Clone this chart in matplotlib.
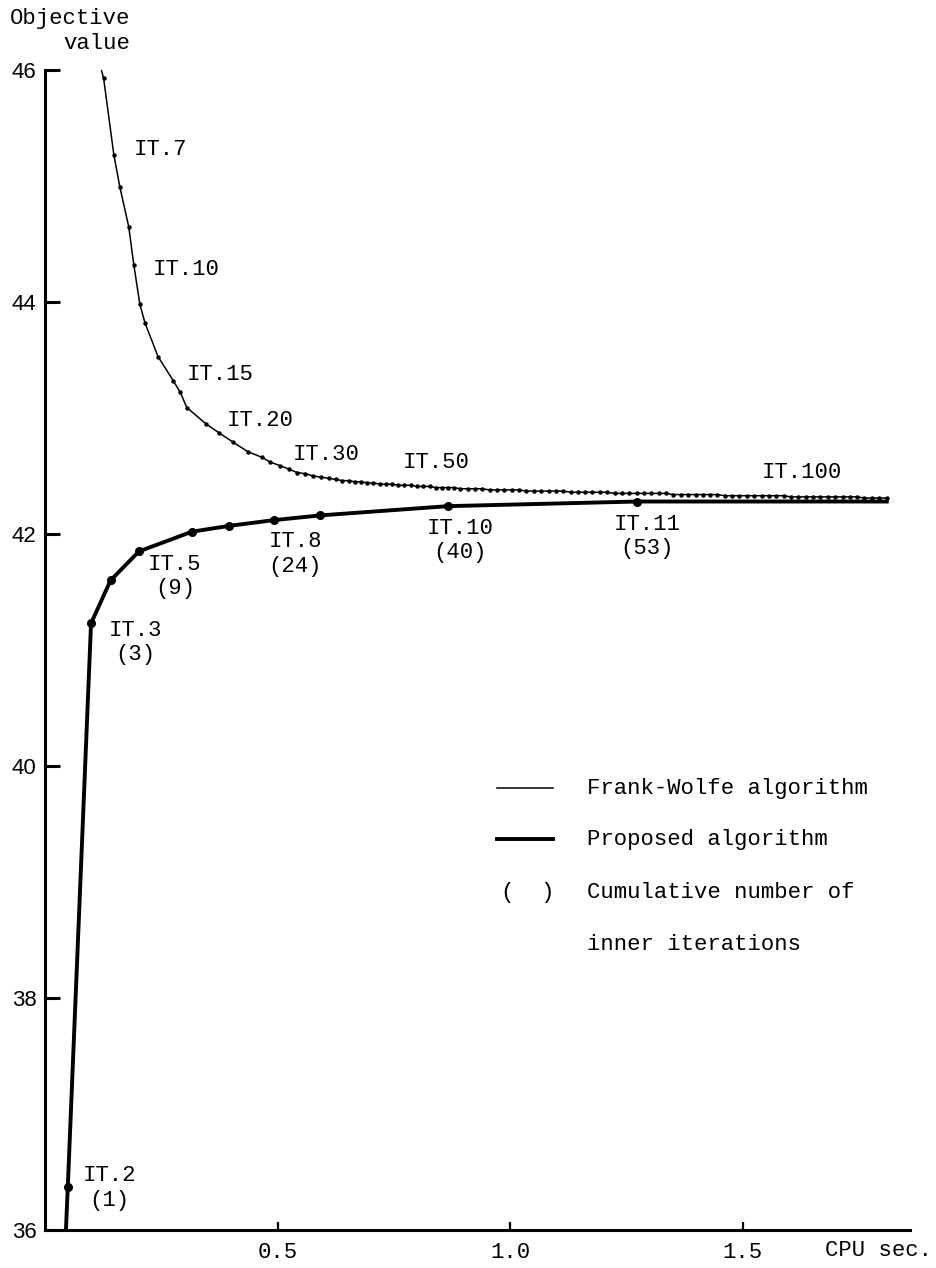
import matplotlib.pyplot as plt

# ---- data ----
# Frank-Wolfe iterates, IT.5 .. IT.108 (CPU sec, objective value)
fw_start_it = 5
fw_cpu = [0.080, 0.126, 0.148, 0.161, 0.180, 0.191, 0.204, 0.215, 0.243, 0.276,
          0.291, 0.305, 0.346, 0.375, 0.405, 0.436, 0.467, 0.484, 0.505, 0.524,
          0.542, 0.560, 0.577, 0.593, 0.610, 0.626,
          0.639, 0.653, 0.666, 0.680, 0.693, 0.706, 0.720, 0.733, 0.746, 0.760,
          0.773, 0.786, 0.800, 0.813, 0.827, 0.840, 0.853, 0.867, 0.880, 0.893,
          0.909, 0.925, 0.940, 0.956, 0.972, 0.988, 1.004, 1.019, 1.035, 1.051,
          1.067, 1.083, 1.098, 1.114, 1.130, 1.146, 1.162, 1.177, 1.193, 1.209,
          1.225, 1.241, 1.256, 1.272, 1.288, 1.304, 1.320, 1.335, 1.351, 1.367,
          1.383, 1.399, 1.414, 1.430, 1.446, 1.462, 1.478, 1.493, 1.509, 1.525,
          1.541, 1.557, 1.572, 1.588, 1.604, 1.620, 1.636, 1.651, 1.667, 1.683,
          1.699, 1.715, 1.730, 1.746, 1.762, 1.778, 1.794, 1.810]
fw_obj = [46.60, 45.93, 45.27, 44.99, 44.65, 44.32, 43.98, 43.82, 43.53, 43.32,
          43.22, 43.09, 42.95, 42.87, 42.79, 42.71, 42.66, 42.62, 42.59, 42.56,
          42.53, 42.52, 42.50, 42.49, 42.48, 42.47,
          42.46, 42.46, 42.45, 42.45, 42.44, 42.44, 42.43, 42.43, 42.43, 42.42,
          42.42, 42.42, 42.41, 42.41, 42.41, 42.40, 42.40, 42.40, 42.40, 42.39,
          42.39, 42.39, 42.39, 42.38, 42.38, 42.38, 42.38, 42.38, 42.37, 42.37,
          42.37, 42.37, 42.37, 42.37, 42.36, 42.36, 42.36, 42.36, 42.36, 42.36,
          42.35, 42.35, 42.35, 42.35, 42.35, 42.35, 42.35, 42.35, 42.34, 42.34,
          42.34, 42.34, 42.34, 42.34, 42.34, 42.33, 42.33, 42.33, 42.33, 42.33,
          42.33, 42.33, 42.33, 42.33, 42.32, 42.32, 42.32, 42.32, 42.32, 42.32,
          42.32, 42.32, 42.32, 42.32, 42.31, 42.31, 42.31, 42.31]
fw_labelled = [7, 10, 15, 20, 30, 50, 100]

# Proposed algorithm: line runs up from the axis, iterates IT.2 .. IT.11, then flat
pr_cpu = [0.045, 0.049, 0.099, 0.141, 0.202, 0.316, 0.396, 0.493, 0.591, 0.866, 1.273, 1.810]
pr_obj = [36.00, 36.37, 41.23, 41.60, 41.85, 42.02, 42.07, 42.12, 42.16, 42.24, 42.28, 42.28]
pr_iter = [None, 2, 3, 4, 5, 6, 7, 8, 9, 10, 11, None]
pr_inner = {2: 1, 3: 3, 5: 9, 8: 24, 10: 40, 11: 53}

xticks = [0.5, 1.0, 1.5]
xtick_labels = ['0.5', '1.0', '1.5']
yticks = [36, 38, 40, 42, 44, 46]

mono = 'Liberation Mono'
fs = 16

fig = plt.figure(figsize=(9.37, 12.68), dpi=100)
ax = fig.add_axes([45/937, 1 - 1230/1268, 865/937, 1160/1268])

# Frank-Wolfe: thin line with tiny dots at every iteration
ax.plot(fw_cpu, fw_obj, color='black', lw=1.1, marker='o', ms=2.2)
# proposed: thick line, dots only on the iterates
pr_marks = [i for i, it in enumerate(pr_iter) if it is not None]
ax.plot(pr_cpu, pr_obj, color='black', lw=2.8, marker='o', ms=5.5,
        markevery=pr_marks, solid_joinstyle='round')

# labels on Frank-Wolfe curve (offsets in pixels from the iterate)
fw_offsets = {7: (20, 5), 10: (19, -5), 15: (6, 18), 20: (-21, 31),
              30: (-43, 25), 50: (-58, 26), 100: (-66, 24)}
for it in fw_labelled:
    i = it - fw_start_it
    ax.annotate('IT.%d' % it, (fw_cpu[i], fw_obj[i]), xytext=fw_offsets[it],
                textcoords='offset pixels', ha='left', va='center',
                family=mono, fontsize=fs)

# labels on proposed curve: iteration and cumulative inner iterations
pr_offsets = {2: (42, -1), 3: (44, -19), 5: (36, -25), 8: (21, -34),
              10: (12, -34), 11: (10, -35)}
for it, inner in pr_inner.items():
    i = pr_iter.index(it)
    ax.annotate('IT.%d\n(%d)' % (it, inner), (pr_cpu[i], pr_obj[i]),
                xytext=pr_offsets[it], textcoords='offset pixels',
                ha='center', va='center', multialignment='center',
                family=mono, fontsize=fs, linespacing=1.2)

ax.set_xlim(0, 1.86)
ax.set_ylim(36, 46)
ax.set_xticks(xticks)
ax.set_xticklabels(xtick_labels, family=mono, fontsize=fs)
ax.set_yticks(yticks)
ax.set_yticklabels([str(v) for v in yticks], family='Liberation Sans', fontsize=16)
ax.tick_params(axis='y', direction='in', length=11, width=2.2, pad=6)
ax.tick_params(axis='x', direction='in', length=6, width=1.6, pad=9)

for s in ['top', 'right']:
    ax.spines[s].set_visible(False)
for s in ['left', 'bottom']:
    ax.spines[s].set_linewidth(2.2)

# legend, drawn by hand (no frame)
ax.plot([0.523, 0.587], [0.381, 0.381], transform=ax.transAxes, color='black', lw=1.1)
ax.plot([0.523, 0.587], [0.337, 0.337], transform=ax.transAxes, color='black', lw=2.8)
ax.text(0.558, 0.291, '(  )', transform=ax.transAxes, ha='center', va='center',
        family=mono, fontsize=fs)
ax.text(0.627, 0.381, 'Frank-Wolfe algorithm', transform=ax.transAxes,
        va='center', family=mono, fontsize=fs)
ax.text(0.627, 0.337, 'Proposed algorithm', transform=ax.transAxes,
        va='center', family=mono, fontsize=fs)
ax.text(0.627, 0.291, 'Cumulative number of', transform=ax.transAxes,
        va='center', family=mono, fontsize=fs)
ax.text(0.627, 0.246, 'inner iterations', transform=ax.transAxes,
        va='center', family=mono, fontsize=fs)

# axis titles
fig.text(10/937, 1 - 31/1268, 'Objective\nvalue', ha='left', va='center',
         multialignment='right', family=mono, fontsize=fs, linespacing=1.2)
fig.text(932/937, 1 - 1250/1268, 'CPU sec.', ha='right', va='center',
         family=mono, fontsize=fs)

fig.savefig('out.png', dpi=100)
